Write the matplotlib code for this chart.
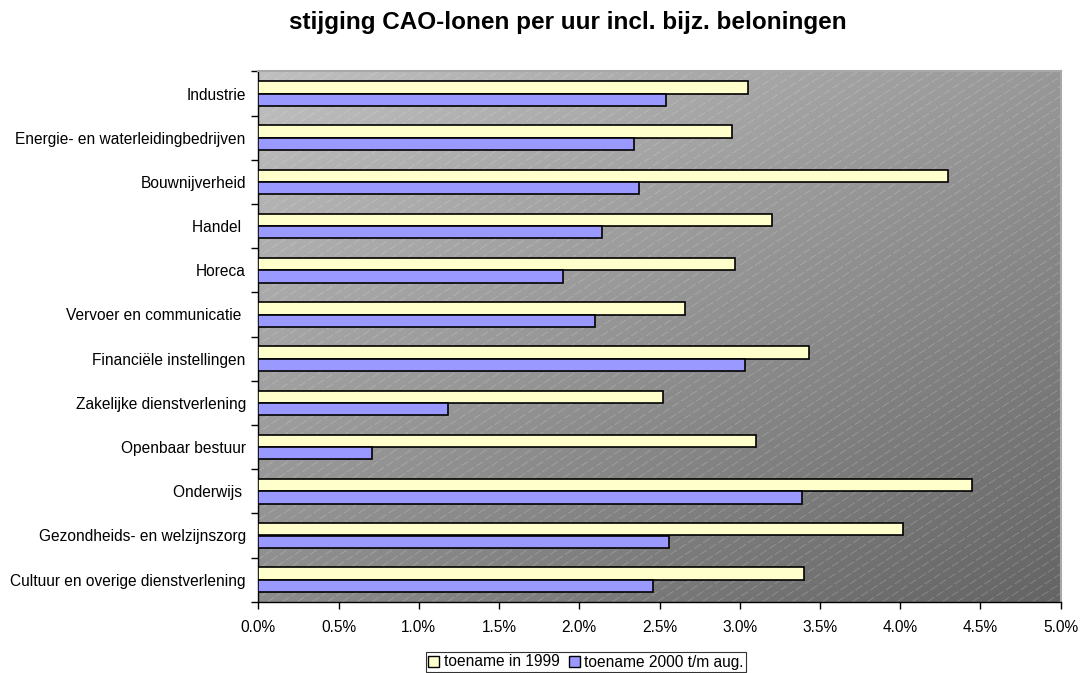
import numpy as np
import matplotlib
matplotlib.use("Agg")
import matplotlib.pyplot as plt
from matplotlib.ticker import FuncFormatter, MultipleLocator, FixedLocator
from matplotlib.patches import Patch
from matplotlib.lines import Line2D

categories = [
    "Industrie",
    "Energie- en waterleidingbedrijven",
    "Bouwnijverheid",
    "Handel ",
    "Horeca",
    "Vervoer en communicatie ",
    "Financiële instellingen",
    "Zakelijke dienstverlening",
    "Openbaar bestuur",
    "Onderwijs ",
    "Gezondheids- en welzijnszorg",
    "Cultuur en overige dienstverlening",
]
toename_1999 = [3.05, 2.95, 4.30, 3.20, 2.97, 2.66, 3.43, 2.52, 3.10, 4.45, 4.02, 3.40]
toename_2000 = [2.54, 2.34, 2.37, 2.14, 1.90, 2.10, 3.03, 1.18, 0.71, 3.39, 2.56, 2.46]
series_labels = ["toename in 1999", "toename 2000 t/m aug."]
title = "stijging CAO-lonen per uur incl. bijz. beloningen"

plt.rcParams['font.family'] = ['Liberation Sans', 'DejaVu Sans']

W, H = 1082, 673
fig = plt.figure(figsize=(W / 100, H / 100), dpi=100)
fig.patch.set_facecolor('white')
left, right, top, bottom = 258.3, 1060.7, 71.4, 601.8
ax = fig.add_axes([left / W, 1 - bottom / H, (right - left) / W, (bottom - top) / H])

# gradient background (light top-left, dark bottom-right)
nx, ny = 300, 200
xx, yy = np.meshgrid(np.linspace(0, 1, nx), np.linspace(0, 1, ny))
val = (192 - 40 * xx - 52 * yy) / 255.0
img = np.dstack([val, val, val])
ax.imshow(img, extent=[0, 1, 0, 1], transform=ax.transAxes, aspect='auto',
          zorder=0, interpolation='bilinear', origin='upper')

# diagonal light dashed pattern lines
pw, ph = right - left, bottom - top
slope = 0.65  # pixel dy/dx
spacing = 15.0
x0s = np.arange(-ph / slope - spacing, pw + spacing, spacing)
for x0 in x0s:
    xs = np.array([x0, x0 + ph / slope]) / pw
    ys = np.array([0, 1])
    ax.add_line(Line2D(xs, ys, transform=ax.transAxes, color='#f0f0f0', alpha=0.25,
                       lw=0.6, ls=(0, (10, 3)), zorder=0.5, clip_on=True, antialiased=True))

y = np.arange(len(categories))
h = 0.28
ax.barh(y - h / 2, toename_1999, height=h, color='#FFFFCC', edgecolor='black', lw=1.2, zorder=3)
ax.barh(y + h / 2, toename_2000, height=h, color='#9999FF', edgecolor='black', lw=1.2, zorder=3)

ax.set_xlim(0, 5)
ax.set_ylim(len(categories) - 0.5, -0.5)
ax.xaxis.set_major_locator(MultipleLocator(0.5))
ax.xaxis.set_major_formatter(FuncFormatter(lambda v, p: f"{v:.1f}%"))
ax.tick_params(axis='x', direction='out', length=5, width=1, pad=8, labelsize=11.2, colors='black')

ax.yaxis.set_major_locator(FixedLocator(y))
ax.set_yticklabels(categories)
ax.yaxis.set_minor_locator(FixedLocator(np.arange(-0.5, len(categories), 1.0)))
ax.tick_params(axis='y', which='major', length=0, pad=9, labelsize=11.2)
ax.tick_params(axis='y', which='minor', direction='out', length=5, width=1)

for s in ['left', 'bottom']:
    ax.spines[s].set_color('black')
    ax.spines[s].set_linewidth(1.0)
for s in ['top', 'right']:
    ax.spines[s].set_color('#a8a8a8')
    ax.spines[s].set_linewidth(1.5)

fig.text(568 / W, 1 - 22 / H, title, ha='center', va='center', fontsize=17.5, fontweight='bold')

handles = [Patch(facecolor='#FFFFCC', edgecolor='black', lw=1.0),
           Patch(facecolor='#9999FF', edgecolor='black', lw=1.0)]
leg = fig.legend(handles, series_labels, loc='center', bbox_to_anchor=(586 / W, 1 - 662 / H),
                 ncol=2, fontsize=11.2, frameon=True, fancybox=False, edgecolor='black',
                 handlelength=0.7, handleheight=0.7, handletextpad=0.3, columnspacing=0.6,
                 borderpad=0.15, borderaxespad=0)
leg.get_frame().set_linewidth(0.8)

fig.savefig('out.png', dpi=100)
